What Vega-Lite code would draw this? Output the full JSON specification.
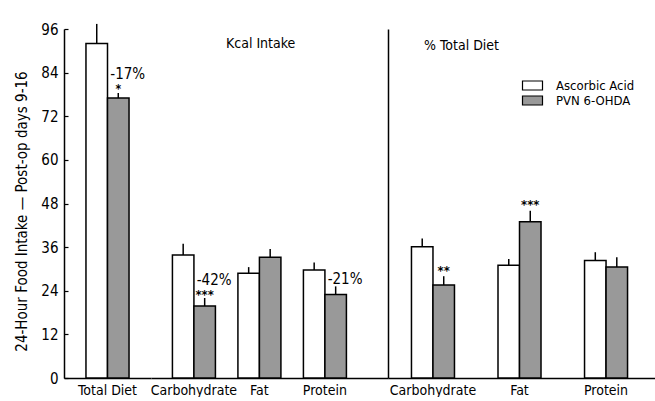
{
  "$schema": "https://vega.github.io/schema/vega-lite/v6.json",
  "autosize": {"type": "pad"},
  "padding": {"left": 14, "top": 22, "right": 0, "bottom": 0},
  "background": "white",
  "spacing": 0,
  "bounds": "flush",
  "config": {
    "font": "DejaVu Sans Condensed, Liberation Sans, sans-serif",
    "view": {"stroke": null},
    "axis": {"domainColor": "black", "domainWidth": 1.5, "labelColor": "black", "titleColor": "black", "grid": false, "titleFontWeight": "normal", "labelFont": "DejaVu Sans Condensed, Liberation Sans, sans-serif", "titleFont": "DejaVu Sans Condensed, Liberation Sans, sans-serif"},
    "legend": {"labelFont": "DejaVu Sans Condensed, Liberation Sans, sans-serif"},
    "title": {"font": "DejaVu Sans Condensed, Liberation Sans, sans-serif"},
    "text": {"color": "black", "font": "DejaVu Sans Condensed, Liberation Sans, sans-serif"}
  },
  "resolve": {"scale": {"x": "independent", "y": "independent", "xOffset": "independent", "fill": "independent"}},
  "datasets": {
    "bars": [
      {"section": "total", "category": "Total Diet", "group": "Ascorbic Acid", "value": 92.0, "upper": 97.4},
      {"section": "total", "category": "Total Diet", "group": "PVN 6-OHDA", "value": 77.0, "upper": 78.4},
      {"section": "kcal", "category": "Carbohydrate", "group": "Ascorbic Acid", "value": 33.8, "upper": 36.9},
      {"section": "kcal", "category": "Carbohydrate", "group": "PVN 6-OHDA", "value": 19.8, "upper": 22.0},
      {"section": "kcal", "category": "Fat", "group": "Ascorbic Acid", "value": 28.8, "upper": 30.5},
      {"section": "kcal", "category": "Fat", "group": "PVN 6-OHDA", "value": 33.2, "upper": 35.5},
      {"section": "kcal", "category": "Protein", "group": "Ascorbic Acid", "value": 29.7, "upper": 31.8},
      {"section": "kcal", "category": "Protein", "group": "PVN 6-OHDA", "value": 23.0, "upper": 25.2},
      {"section": "pct", "category": "Carbohydrate", "group": "Ascorbic Acid", "value": 36.1, "upper": 38.4},
      {"section": "pct", "category": "Carbohydrate", "group": "PVN 6-OHDA", "value": 25.6, "upper": 28.0},
      {"section": "pct", "category": "Fat", "group": "Ascorbic Acid", "value": 31.0, "upper": 32.7},
      {"section": "pct", "category": "Fat", "group": "PVN 6-OHDA", "value": 43.0, "upper": 46.0},
      {"section": "pct", "category": "Protein", "group": "Ascorbic Acid", "value": 32.3, "upper": 34.6},
      {"section": "pct", "category": "Protein", "group": "PVN 6-OHDA", "value": 30.5, "upper": 33.2}
    ],
    "notes": [
      {"section": "total", "category": "Total Diet", "group": "PVN 6-OHDA", "kind": "pct", "label": "-17%", "y": 83.6},
      {"section": "total", "category": "Total Diet", "group": "PVN 6-OHDA", "kind": "sig", "label": "*", "y": 79.4},
      {"section": "kcal", "category": "Carbohydrate", "group": "PVN 6-OHDA", "kind": "pct", "label": "-42%", "y": 27.0},
      {"section": "kcal", "category": "Carbohydrate", "group": "PVN 6-OHDA", "kind": "sig", "label": "***", "y": 23.0},
      {"section": "kcal", "category": "Protein", "group": "PVN 6-OHDA", "kind": "pct", "label": "-21%", "y": 27.2},
      {"section": "pct", "category": "Carbohydrate", "group": "PVN 6-OHDA", "kind": "sig", "label": "**", "y": 29.6},
      {"section": "pct", "category": "Fat", "group": "PVN 6-OHDA", "kind": "sig", "label": "***", "y": 47.8}
    ]
  },
  "hconcat": [
    {
      "width": 87,
      "height": 349,
      "encoding": {
        "x": {"field": "category", "type": "nominal", "scale": {"domain": ["Total Diet"], "paddingInner": 0, "paddingOuter": 0.51}, "axis": {"title": null, "labelAngle": 0, "labelFontSize": 14, "labelPadding": 5, "ticks": false}},
        "xOffset": {"field": "group", "type": "nominal", "scale": {"domain": ["Ascorbic Acid", "PVN 6-OHDA"], "paddingInner": 0, "paddingOuter": 0}}
      },
      "layer": [
        {
          "data": {"name": "bars"},
          "transform": [{"filter": "datum.section == 'total'"}],
          "mark": {"type": "bar", "stroke": "black", "strokeWidth": 1.5},
          "encoding": {
            "y": {"field": "value", "type": "quantitative", "scale": {"domain": [0, 96], "nice": false}, "axis": {"values": [0, 12, 24, 36, 48, 60, 72, 84, 96], "ticks": true, "tickSize": -4, "tickWidth": 1.2, "tickColor": "black", "labelPadding": 10, "labelFontSize": 15, "title": "24-Hour Food Intake — Post-op days 9-16", "titleFontSize": 15, "titlePadding": 11, "titleY": 182}},
            "fill": {"field": "group", "type": "nominal", "scale": {"domain": ["Ascorbic Acid", "PVN 6-OHDA"], "range": ["white", "#999999"]}, "legend": null}
          }
        },
        {
          "data": {"name": "bars"},
          "transform": [{"filter": "datum.section == 'total'"}],
          "mark": {"type": "rule", "color": "black", "strokeWidth": 1.5},
          "encoding": {"y": {"field": "value", "type": "quantitative"}, "y2": {"field": "upper"}}
        },
        {
          "data": {"name": "notes"},
          "transform": [{"filter": "datum.section == 'total' && datum.kind == 'pct'"}],
          "mark": {"type": "text", "align": "left", "dx": -8, "baseline": "middle", "fontSize": 15},
          "encoding": {"y": {"field": "y", "type": "quantitative"}, "text": {"field": "label"}}
        },
        {
          "data": {"name": "notes"},
          "transform": [{"filter": "datum.section == 'total' && datum.kind == 'sig'"}],
          "mark": {"type": "text", "align": "center", "baseline": "middle", "fontSize": 12, "fontWeight": "bold"},
          "encoding": {"y": {"field": "y", "type": "quantitative"}, "text": {"field": "label"}}
        }
      ]
    },
    {
      "width": 237,
      "height": 349,
      "title": {"text": "Kcal Intake", "offset": -22, "fontSize": 14, "fontWeight": "normal", "anchor": "start", "dx": 75, "frame": "group", "color": "black"},
      "encoding": {
        "x": {"field": "category", "type": "nominal", "scale": {"domain": ["Carbohydrate", "Fat", "Protein"], "paddingInner": 0.3435, "paddingOuter": 0.481, "align": 0.34}, "axis": {"title": null, "labelAngle": 0, "labelFontSize": 14, "labelPadding": 5, "ticks": false}},
        "xOffset": {"field": "group", "type": "nominal", "scale": {"domain": ["Ascorbic Acid", "PVN 6-OHDA"], "paddingInner": 0, "paddingOuter": 0}}
      },
      "layer": [
        {
          "data": {"name": "bars"},
          "transform": [{"filter": "datum.section == 'kcal'"}],
          "mark": {"type": "bar", "stroke": "black", "strokeWidth": 1.5},
          "encoding": {
            "y": {"field": "value", "type": "quantitative", "scale": {"domain": [0, 96], "nice": false}, "axis": null},
            "fill": {"field": "group", "type": "nominal", "scale": {"domain": ["Ascorbic Acid", "PVN 6-OHDA"], "range": ["white", "#999999"]}, "legend": null}
          }
        },
        {
          "data": {"name": "bars"},
          "transform": [{"filter": "datum.section == 'kcal'"}],
          "mark": {"type": "rule", "color": "black", "strokeWidth": 1.5},
          "encoding": {"y": {"field": "value", "type": "quantitative"}, "y2": {"field": "upper"}}
        },
        {
          "data": {"name": "notes"},
          "transform": [{"filter": "datum.section == 'kcal' && datum.kind == 'pct'"}],
          "mark": {"type": "text", "align": "left", "dx": -8, "baseline": "middle", "fontSize": 15},
          "encoding": {"y": {"field": "y", "type": "quantitative"}, "text": {"field": "label"}}
        },
        {
          "data": {"name": "notes"},
          "transform": [{"filter": "datum.section == 'kcal' && datum.kind == 'sig'"}],
          "mark": {"type": "text", "align": "center", "baseline": "middle", "fontSize": 13, "fontWeight": "bold", "dy": 1},
          "encoding": {"y": {"field": "y", "type": "quantitative"}, "text": {"field": "label"}}
        }
      ]
    },
    {
      "width": 268,
      "height": 349,
      "title": {"text": "% Total Diet", "offset": -24, "fontSize": 14, "fontWeight": "normal", "anchor": "start", "dx": 36, "frame": "group", "color": "black"},
      "encoding": {
        "x": {"field": "category", "type": "nominal", "scale": {"domain": ["Carbohydrate", "Fat", "Protein"], "paddingInner": 0.503, "paddingOuter": 0.3, "align": 0.452}, "axis": {"title": null, "labelAngle": 0, "labelFontSize": 14, "labelPadding": 5, "ticks": false}},
        "xOffset": {"field": "group", "type": "nominal", "scale": {"domain": ["Ascorbic Acid", "PVN 6-OHDA"], "paddingInner": 0, "paddingOuter": 0}}
      },
      "layer": [
        {
          "data": {"name": "bars"},
          "transform": [{"filter": "datum.section == 'pct'"}],
          "mark": {"type": "bar", "stroke": "black", "strokeWidth": 1.5},
          "encoding": {
            "y": {"field": "value", "type": "quantitative", "scale": {"domain": [0, 96], "nice": false}, "axis": {"labels": false, "ticks": false, "title": null, "domain": true}},
            "fill": {"field": "group", "type": "nominal", "scale": {"domain": ["Ascorbic Acid", "PVN 6-OHDA"], "range": ["white", "#999999"]}, "legend": {"title": null, "orient": "none", "legendX": 138, "legendY": 50, "symbolType": "M-2,-0.9H2V0.9H-2Z", "symbolSize": 100, "symbolStrokeColor": "black", "symbolStrokeWidth": 1.2, "labelFontSize": 13, "labelOffset": 17, "labelColor": "black", "rowPadding": 0}}
          }
        },
        {
          "data": {"name": "bars"},
          "transform": [{"filter": "datum.section == 'pct'"}],
          "mark": {"type": "rule", "color": "black", "strokeWidth": 1.5},
          "encoding": {"y": {"field": "value", "type": "quantitative"}, "y2": {"field": "upper"}}
        },
        {
          "data": {"name": "notes"},
          "transform": [{"filter": "datum.section == 'pct' && datum.kind == 'sig'"}],
          "mark": {"type": "text", "align": "center", "baseline": "middle", "fontSize": 13, "fontWeight": "bold", "dy": 1},
          "encoding": {"y": {"field": "y", "type": "quantitative"}, "text": {"field": "label"}}
        }
      ]
    }
  ]
}
